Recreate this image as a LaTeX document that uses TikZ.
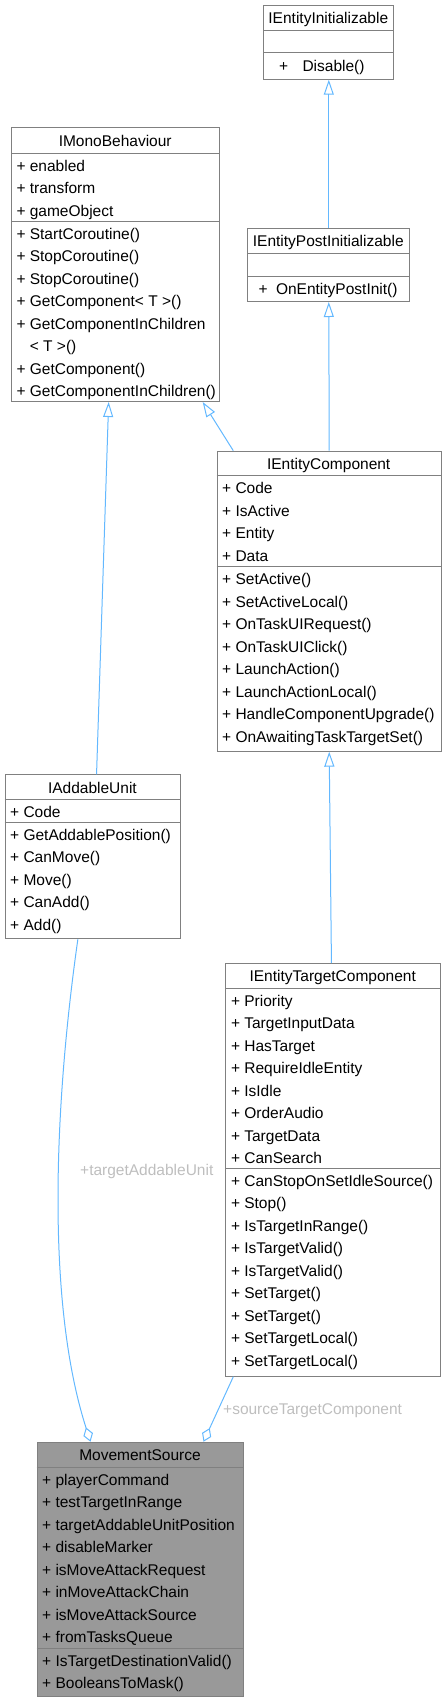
\documentclass[tikz,border=0pt]{standalone}
\usepackage{fontspec}
\setmainfont{Liberation Sans}
\usetikzlibrary{arrows.meta}

\definecolor{boxgray}{HTML}{808080}
\definecolor{edgeblue}{HTML}{63B8FF}
\definecolor{rolegray}{HTML}{BEBEBE}
\definecolor{rootfill}{HTML}{999999}

\tikzset{
    classbox/.style={draw=boxgray, line width=1pt, fill=white, anchor=north west, inner sep=0pt},
    sepline/.style={draw=boxgray, line width=1pt},
    titletxt/.style={anchor=base, inner sep=0pt, font=\fontsize{15.5}{18}\selectfont},
    rowtxt/.style={anchor=base west, inner sep=0pt, font=\fontsize{15.5}{18}\selectfont},
    rolelabel/.style={anchor=base west, inner sep=0pt, text=rolegray, font=\fontsize{15.5}{18}\selectfont},
    inherit/.style={draw=edgeblue, line width=1pt, -{Triangle[open, length=15pt, width=10pt]}},
    aggreg/.style={draw=edgeblue, line width=1pt, -{Diamond[open, length=15pt, width=10pt]}},
}

\begin{document}
\begin{tikzpicture}[x=1pt, y=-1pt]
    \useasboundingbox (0,0) rectangle (446,1702);

    % 1. IEntityInitializable
    \node[classbox, minimum width=130pt, minimum height=74pt] (einit) at (263.3,4.7) {};
    \draw[sepline] (263.3,31) -- (393.3,31);
    \draw[sepline] (263.3,52.7) -- (393.3,52.7);
    \node[titletxt] (einit-t) at (328.3,23.9) {IEntityInitializable};
    \node[rowtxt] (einit-m1) at (279,71.7) {+\hspace{10pt} Disable()};

    % 2. IEntityPostInitializable
    \node[classbox, minimum width=162pt, minimum height=73pt] (epost) at (247.3,228) {};
    \draw[sepline] (247.3,253.3) -- (409.3,253.3);
    \draw[sepline] (247.3,276.7) -- (409.3,276.7);
    \node[titletxt] (epost-t) at (328.3,246.7) {IEntityPostInitializable};
    \node[rowtxt] (epost-m1) at (258.5,294.9) {+\hspace{4pt} OnEntityPostInit()};

    % 3. IMonoBehaviour
    \node[classbox, minimum width=207.7pt, minimum height=273.7pt] (mono) at (11.3,127.3) {};
    \draw[sepline] (11.3,153.3) -- (219,153.3);
    \draw[sepline] (11.3,221) -- (219,221);
    \node[titletxt] (mono-t) at (115.2,146.3) {IMonoBehaviour};
    \foreach \txt [count=\i] in {enabled, transform, gameObject}
        \node[rowtxt] (mono-a\i) at (16.3,153.3-4.5+22.5*\i) {+ \txt};
    \foreach \txt [count=\i] in {+ StartCoroutine(), + StopCoroutine(), + StopCoroutine(),
            + GetComponent< T >(), + GetComponentInChildren, \phantom{+ }< T >(),
            + GetComponent(), + GetComponentInChildren()}
        \node[rowtxt] (mono-m\i) at (16.3,221-4.5+22.5*\i) {\txt};

    % 4. IEntityComponent
    \node[classbox, minimum width=224pt, minimum height=300pt] (ecomp) at (216.7,450.7) {};
    \draw[sepline] (216.7,475.7) -- (440.7,475.7);
    \draw[sepline] (216.7,566.7) -- (440.7,566.7);
    \node[titletxt] (ecomp-t) at (328.7,469.2) {IEntityComponent};
    \foreach \txt [count=\i] in {Code, IsActive, Entity, Data}
        \node[rowtxt] (ecomp-a\i) at (222,475.7-4.5+22.5*\i) {+ \txt};
    \foreach \txt [count=\i] in {SetActive(), SetActiveLocal(), OnTaskUIRequest(), OnTaskUIClick(),
            LaunchAction(), LaunchActionLocal(), HandleComponentUpgrade(), OnAwaitingTaskTargetSet()}
        \node[rowtxt] (ecomp-m\i) at (222,566.7-4.5+22.5*\i) {+ \txt};

    % 5. IAddableUnit
    \node[classbox, minimum width=175.3pt, minimum height=164pt] (addable) at (4.7,774.3) {};
    \draw[sepline] (4.7,799.7) -- (180,799.7);
    \draw[sepline] (4.7,822.3) -- (180,822.3);
    \node[titletxt] (addable-t) at (92.4,793) {IAddableUnit};
    \node[rowtxt] (addable-a1) at (10,799.7-4.5+22.5) {+ Code};
    \foreach \txt [count=\i] in {GetAddablePosition(), CanMove(), Move(), CanAdd(), Add()}
        \node[rowtxt] (addable-m\i) at (10,822.3-4.5+22.5*\i) {+ \txt};

    % 6. IEntityTargetComponent
    \node[classbox, minimum width=214.7pt, minimum height=412.7pt] (etarget) at (225.3,963) {};
    \draw[sepline] (225.3,988.3) -- (440,988.3);
    \draw[sepline] (225.3,1168.3) -- (440,1168.3);
    \node[titletxt] (etarget-t) at (332.7,981.7) {IEntityTargetComponent};
    \foreach \txt [count=\i] in {Priority, TargetInputData, HasTarget, RequireIdleEntity,
            IsIdle, OrderAudio, TargetData, CanSearch}
        \node[rowtxt] (etarget-a\i) at (230.8,988.3-4.5+22.5*\i) {+ \txt};
    \foreach \txt [count=\i] in {CanStopOnSetIdleSource(), Stop(), IsTargetInRange(), IsTargetValid(),
            IsTargetValid(), SetTarget(), SetTarget(), SetTargetLocal(), SetTargetLocal()}
        \node[rowtxt] (etarget-m\i) at (230.8,1168.3-4.5+22.5*\i) {+ \txt};

    % 7. MovementSource (lớp gốc, tô xám)
    \node[classbox, fill=rootfill, minimum width=206.6pt, minimum height=254.3pt] (msrc) at (36.7,1441.7) {};
    \draw[sepline] (36.7,1467.3) -- (243.3,1467.3);
    \draw[sepline] (36.7,1648.3) -- (243.3,1648.3);
    \node[titletxt] (msrc-t) at (140,1460.5) {MovementSource};
    \foreach \txt [count=\i] in {playerCommand, testTargetInRange, targetAddableUnitPosition,
            disableMarker, isMoveAttackRequest, inMoveAttackChain, isMoveAttackSource, fromTasksQueue}
        \node[rowtxt] (msrc-a\i) at (42,1467.3-4.5+22.5*\i) {+ \txt};
    \foreach \txt [count=\i] in {IsTargetDestinationValid(), BooleansToMask()}
        \node[rowtxt] (msrc-m\i) at (42,1648.3-4.5+22.5*\i) {+ \txt};

    % 8. Kế thừa
    \draw[inherit] (epost.north) -- (einit.south);
    \draw[inherit] (ecomp.north) -- (epost.south);
    \draw[inherit] ([xshift=16.6pt]ecomp.north west) -- ([xshift=-17.3pt]mono.south east);
    \draw[inherit] ([xshift=3.7pt]addable.north) -- ([xshift=-7pt]mono.south);
    \draw[inherit] ([xshift=-1.7pt]etarget.north) -- (ecomp.south);

    % 9. Quan hệ thành phần và nhãn
    \draw[aggreg] ([xshift=-15pt]addable.south)
        .. controls (55,1100) and (45,1300) .. ([xshift=-50pt]msrc.north);
    \draw[aggreg] ([xshift=8pt]etarget.south west) -- ([xshift=63pt]msrc.north);
    \node[rolelabel] (lbl-addable) at (80,1175.5) {+targetAddableUnit};
    \node[rolelabel] (lbl-source) at (223,1414.5) {+sourceTargetComponent};
\end{tikzpicture}
\end{document}
